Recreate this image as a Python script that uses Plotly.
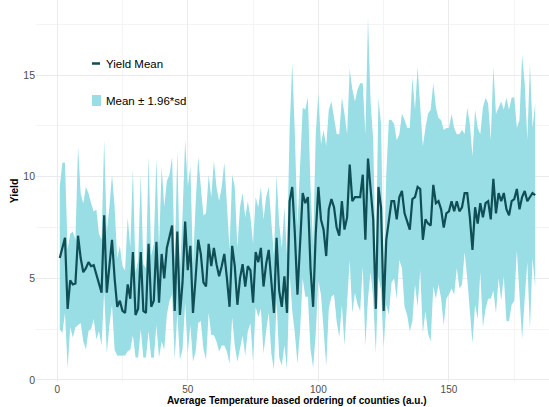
import plotly.graph_objects as go

# County index (ordered by average temperature)
county_index = list(range(1, 184))

# Yield mean per county
yield_mean = [
    6.0, 6.5, 7.0, 3.5, 4.9, 4.7, 4.75, 7.1, 6.0, 5.3,
    5.5, 5.8, 5.6, 5.65, 5.2, 4.8, 4.3, 8.1, 4.3, 5.6,
    6.9, 5.0, 3.6, 3.9, 3.4, 3.3, 4.7, 4.0, 6.3, 3.2,
    3.5, 6.3, 3.4, 3.3, 6.7, 3.6, 3.9, 6.8, 3.8, 6.2,
    5.0, 6.5, 7.0, 7.6, 3.4, 7.3, 3.2, 4.8, 7.8, 5.4,
    6.6, 3.3, 5.0, 6.9, 6.2, 4.8, 4.6, 6.7, 5.6, 6.5,
    5.7, 5.1, 5.6, 6.2, 5.0, 3.6, 6.6, 5.6, 3.7, 5.0,
    5.7, 4.6, 5.6, 5.4, 3.8, 6.3, 5.8, 6.5, 4.6, 5.7,
    6.4, 4.6, 3.3, 7.0, 4.4, 3.6, 5.1, 3.3, 8.8, 9.5,
    7.2, 4.2, 6.6, 9.2, 8.7, 9.0, 5.5, 3.6, 7.2, 9.5,
    7.9, 7.4, 6.1, 8.4, 8.9, 8.5, 7.5, 7.1, 8.8, 7.4,
    8.0, 10.6, 8.8, 9.0, 9.0, 9.0, 10.1, 6.9, 10.9, 9.5,
    7.9, 3.5, 9.5, 8.5, 3.4, 6.9, 8.0, 8.8, 8.8, 7.9,
    9.0, 9.3, 8.2, 7.8, 7.4, 8.9, 9.0, 9.5, 9.4, 6.9,
    7.9, 7.7, 7.6, 9.6, 8.7, 8.8, 8.4, 7.5, 8.2, 8.3,
    8.8, 8.3, 8.8, 8.3, 8.5, 9.2, 9.2, 8.0, 6.4, 8.5,
    7.7, 8.7, 8.0, 8.7, 8.8, 7.9, 9.9, 8.2, 9.2, 8.8,
    9.2, 8.4, 8.1, 8.8, 8.9, 9.4, 8.4, 9.0, 9.3, 8.8,
    9.0, 9.2, 9.1,
]

# Yield standard deviation per county
yield_sd = [
    1.79, 2.14, 1.89, 1.48, 1.17, 1.33, 1.10, 2.24, 1.63, 1.73,
    2.04, 1.73, 1.58, 1.35, 1.63, 1.22, 1.33, 1.89, 1.53, 1.48,
    1.63, 1.79, 1.22, 1.38, 1.12, 1.07, 1.68, 1.28, 2.09, 1.07,
    1.22, 1.94, 1.17, 1.12, 2.19, 1.28, 1.43, 2.09, 1.38, 2.19,
    1.79, 1.68, 1.58, 1.73, 1.22, 2.04, 1.12, 1.68, 2.04, 2.09,
    1.99, 1.22, 1.84, 2.09, 1.68, 1.68, 1.84, 1.73, 1.73, 2.19,
    1.94, 1.89, 1.99, 2.30, 1.84, 1.43, 1.79, 1.99, 1.43, 1.79,
    1.79, 1.73, 1.63, 1.33, 1.48, 1.38, 1.38, 1.53, 1.68, 1.68,
    1.58, 1.68, 1.43, 1.58, 1.68, 1.48, 1.73, 1.43, 1.84, 3.11,
    2.50, 1.73, 2.14, 2.14, 2.35, 2.50, 2.04, 1.53, 2.50, 2.35,
    1.89, 2.50, 2.76, 2.50, 2.45, 2.19, 2.35, 2.55, 2.60, 2.91,
    2.09, 2.40, 2.81, 2.40, 2.70, 2.86, 2.30, 2.65, 3.52, 2.14,
    1.99, 1.12, 2.24, 2.09, 0.92, 1.63, 2.45, 2.04, 1.94, 1.99,
    1.58, 1.94, 2.35, 2.35, 2.55, 3.06, 2.19, 3.01, 2.04, 2.35,
    2.30, 2.76, 2.91, 2.55, 2.40, 2.09, 2.24, 2.45, 2.14, 2.09,
    2.19, 2.09, 1.68, 1.94, 1.94, 1.48, 2.14, 2.35, 2.35, 2.45,
    2.40, 1.73, 2.76, 2.65, 2.45, 1.99, 2.81, 2.50, 2.14, 2.50,
    2.09, 2.81, 2.65, 2.60, 2.55, 1.53, 2.24, 3.57, 2.70, 1.53,
    3.32, 1.63, 2.30,
]

z = 1.96
band_upper = [m + z * s for m, s in zip(yield_mean, yield_sd)]
band_lower = [m - z * s for m, s in zip(yield_mean, yield_sd)]

RIBBON = "rgb(152,222,228)"
LINE = "rgb(14,78,84)"
FONT = "Liberation Sans, Arial, sans-serif"

fig = go.Figure()
fig.add_trace(go.Scatter(x=county_index, y=band_lower, mode="lines",
                         line=dict(width=0, color=RIBBON), hoverinfo="skip",
                         showlegend=False))
fig.add_trace(go.Scatter(x=county_index, y=band_upper, mode="lines",
                         line=dict(width=0, color=RIBBON), fill="tonexty",
                         fillcolor=RIBBON, name="Mean ± 1.96*sd",
                         showlegend=False))
fig.add_trace(go.Scatter(x=county_index, y=yield_mean, mode="lines",
                         line=dict(width=2.2, color=LINE), name="Yield Mean",
                         showlegend=False))

# manual legend (pixel placement like the reference)
W, H = 549, 407
ml, mr, mt, mb = 36, 0, 0, 25
pw, ph = W - ml - mr, H - mt - mb

def px(xp):
    return (xp - ml) / pw

def py(yp):
    return (H - mb - yp) / ph

fig.add_shape(type="line", xref="paper", yref="paper",
              x0=px(92), x1=px(100), y0=py(63.5), y1=py(63.5),
              line=dict(color=LINE, width=2.5))
fig.add_shape(type="rect", xref="paper", yref="paper",
              x0=px(92), x1=px(101), y0=py(106), y1=py(95),
              fillcolor=RIBBON, line=dict(width=0))
fig.add_annotation(xref="paper", yref="paper", x=px(104), y=py(63.5),
                   text="Yield Mean", showarrow=False, xanchor="left",
                   yanchor="middle", font=dict(size=11.5, color="black", family=FONT))
fig.add_annotation(xref="paper", yref="paper", x=px(104), y=py(100.5),
                   text="Mean ± 1.96*sd", showarrow=False, xanchor="left",
                   yanchor="middle", font=dict(size=11.5, color="black", family=FONT))

# x-axis title
fig.add_annotation(xref="paper", yref="paper", x=px(297), y=py(407),
                   text="<b>Average Temperature based ordering of counties (a.u.)</b>",
                   showarrow=False, xanchor="center", yanchor="bottom",
                   borderpad=0,
                   font=dict(size=10, color="black", family=FONT))

fig.update_layout(
    width=W, height=H,
    margin=dict(l=ml, r=mr, t=mt, b=mb),
    paper_bgcolor="white", plot_bgcolor="white",
    font=dict(family=FONT),
    showlegend=False,
    xaxis=dict(range=[-8.1, 188.3], tickvals=[0, 50, 100, 150],
               showgrid=True, gridcolor="#EBEBEB", gridwidth=1,
               minor=dict(tickvals=[25, 75, 125, 175], showgrid=True,
                          gridcolor="#F4F4F4", gridwidth=0.6),
               zeroline=False, showline=False, ticks="", ticklen=0,
               tickfont=dict(size=10, color="#4D4D4D"), automargin=False),
    yaxis=dict(range=[-0.1, 18.7], tickvals=[0, 5, 10, 15],
               showgrid=True, gridcolor="#EBEBEB", gridwidth=1,
               minor=dict(tickvals=[2.5, 7.5, 12.5, 17.5], showgrid=True,
                          gridcolor="#F4F4F4", gridwidth=0.6),
               zeroline=False, showline=False, ticks="", ticklen=0,
               tickfont=dict(size=10.5, color="#4D4D4D"), automargin=False,
               title=dict(text="<b>Yield</b>", standoff=2,
                          font=dict(size=10.5, color="black"))),
)

fig.write_html("out.html", config={"displayModeBar": False},
               post_script="document.body.style.margin='0';")
